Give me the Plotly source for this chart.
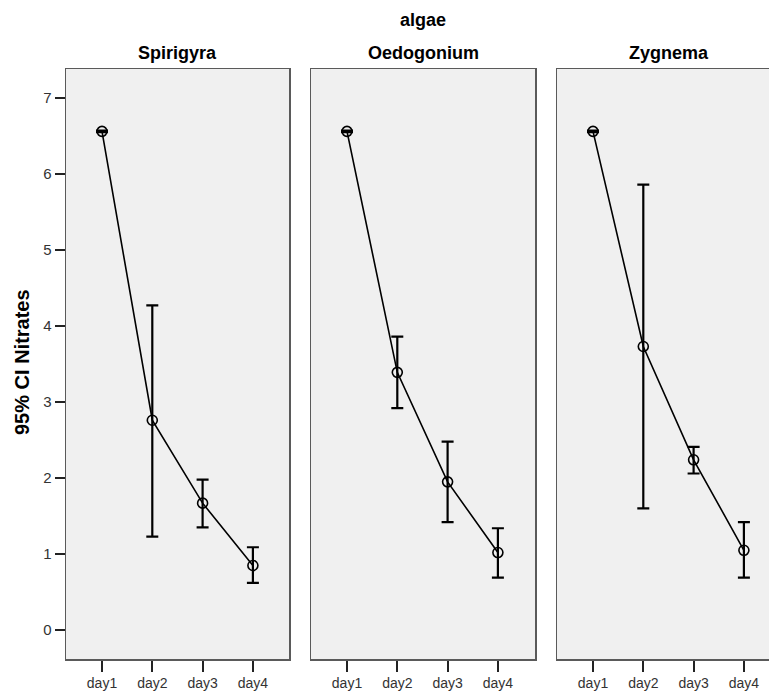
import plotly.graph_objects as go

# ---- data ----
days = ["day1", "day2", "day3", "day4"]
algae = ["Spirigyra", "Oedogonium", "Zygnema"]

spirigyra_mean = [6.56, 2.76, 1.67, 0.85]
spirigyra_upper = [6.57, 4.27, 1.98, 1.09]
spirigyra_lower = [6.55, 1.23, 1.35, 0.62]

oedogonium_mean = [6.56, 3.39, 1.95, 1.02]
oedogonium_upper = [6.57, 3.86, 2.48, 1.34]
oedogonium_lower = [6.55, 2.92, 1.42, 0.69]

zygnema_mean = [6.56, 3.73, 2.24, 1.05]
zygnema_upper = [6.57, 5.86, 2.41, 1.42]
zygnema_lower = [6.55, 1.60, 2.06, 0.69]

y_ticks = [0, 1, 2, 3, 4, 5, 6, 7]

series = [
    (spirigyra_mean, spirigyra_upper, spirigyra_lower),
    (oedogonium_mean, oedogonium_upper, oedogonium_lower),
    (zygnema_mean, zygnema_upper, zygnema_lower),
]

W, H = 769, 693
FONT = "Liberation Sans, Arial, sans-serif"

fig = go.Figure()
for i, (m, up, lo) in enumerate(series):
    suffix = "" if i == 0 else str(i + 1)
    fig.add_trace(go.Scatter(
        x=days, y=m,
        mode="lines+markers",
        line=dict(color="black", width=1.6),
        marker=dict(symbol="circle-open", size=10, color="black", line=dict(width=1.6)),
        error_y=dict(
            type="data", symmetric=False,
            array=[u - v for u, v in zip(up, m)],
            arrayminus=[v - l for v, l in zip(m, lo)],
            color="black", thickness=2.2, width=6,
        ),
        xaxis="x" + suffix, yaxis="y" + suffix,
        showlegend=False,
    ))

# panel pixel positions
panels_px = [(66, 289), (311, 535), (557, 769)]
top_px, bot_px = 69, 659
y_dom = [(H - bot_px) / H, (H - top_px) / H]
px_per_cat = 50.3
left_off = 36

border = "#5a5a5a"
layout = dict(
    width=W, height=H,
    margin=dict(l=0, r=0, t=0, b=0),
    paper_bgcolor="white",
    plot_bgcolor="#f0f0f0",
    font=dict(family=FONT, color="#222"),
)

for i, (x0, x1) in enumerate(panels_px):
    suffix = "" if i == 0 else str(i + 1)
    r0 = -left_off / px_per_cat
    r1 = r0 + (x1 - x0) / px_per_cat
    layout["xaxis" + suffix] = dict(
        domain=[x0 / W, x1 / W],
        anchor="y" + suffix,
        type="category",
        categoryorder="array", categoryarray=days,
        range=[r0, r1],
        showline=True, mirror=True, linecolor=border, linewidth=1.5,
        ticks="outside", ticklen=11, tickwidth=2, tickcolor="#222",
        tickfont=dict(size=14, family=FONT, color="#333"),
        showgrid=False, zeroline=False,
        fixedrange=True,
    )
    layout["yaxis" + suffix] = dict(
        domain=y_dom,
        anchor="x" + suffix,
        range=[-0.38, 7.38],
        tickvals=y_ticks,
        showticklabels=(i == 0),
        ticks="outside" if i == 0 else "",
        ticklen=10, tickwidth=2, tickcolor="#222",
        tickfont=dict(size=15, family=FONT, color="#333"),
        showline=True, mirror=(i < 2), linecolor=border, linewidth=1.5,
        showgrid=False, zeroline=False,
        fixedrange=True,
    )

annotations = [
    dict(text="<b>algae</b>", x=423 / W, y=(H - 20) / H, xref="paper", yref="paper",
         showarrow=False, xanchor="center", yanchor="middle",
         font=dict(size=18, family=FONT, color="black")),
    dict(text="<b>95% CI Nitrates</b>", x=22 / W, y=(H - 362) / H, xref="paper", yref="paper",
         showarrow=False, xanchor="center", yanchor="middle", textangle=-90,
         font=dict(size=20, family=FONT, color="black")),
]
centers = [177.5, 423, 668.5]
for name, cx in zip(algae, centers):
    annotations.append(dict(
        text="<b>" + name + "</b>", x=cx / W, y=(H - 53) / H, xref="paper", yref="paper",
        showarrow=False, xanchor="center", yanchor="middle",
        font=dict(size=18, family=FONT, color="black")))
layout["annotations"] = annotations

fig.update_layout(**layout)
fig.write_html(
    "out.html",
    config={"displayModeBar": False, "staticPlot": True},
    post_script="document.body.style.margin='0';document.body.style.overflow='hidden';",
)
